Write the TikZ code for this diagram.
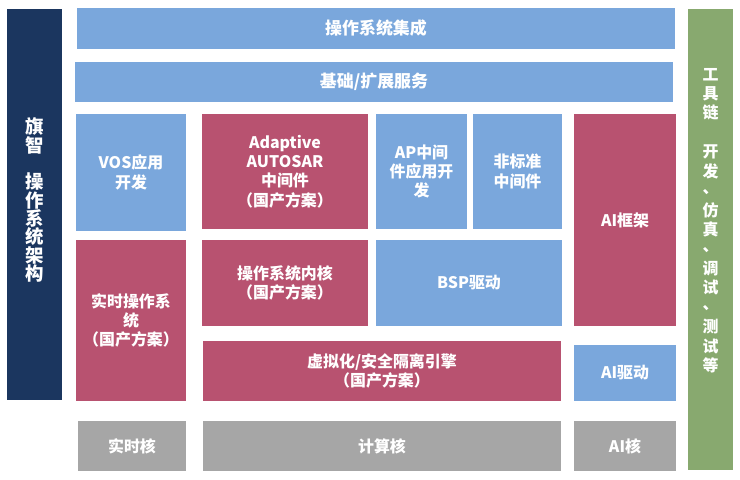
\documentclass[tikz,border=0pt]{standalone}
\usepackage{fontspec}
\setmainfont{Noto Sans CJK SC}
\definecolor{navy}{HTML}{1B365F}
\definecolor{skyblue}{HTML}{7AA7DC}
\definecolor{rose}{HTML}{B85270}
\definecolor{sage}{HTML}{88A96F}
\definecolor{stone}{HTML}{A6A6A6}
\newcommand{\vcomma}{\smash{\raisebox{0.22em}{、}}}

\begin{document}
\begin{tikzpicture}[x=1bp,y=-1bp,
    blk/.style={text=white,inner sep=0pt,align=center,
      font=\fontsize{16}{19.5}\selectfont\bfseries},
    bluebox/.style={blk,fill=skyblue},
    redbox/.style={blk,fill=rose},
    greybox/.style={blk,fill=stone},
    bigtxt/.style={font=\fontsize{17}{19.5}\selectfont\bfseries}]
  \useasboundingbox (0,0) rectangle (740,480);

  % side bars
  \node[blk,fill=navy,minimum width=55,minimum height=393] (side) at (34.5,204.5) {};
  \node[text=white,align=center,inner sep=0pt,
        font=\fontsize{18.5}{18.4}\selectfont\bfseries] (sidetxt) at (34.5,200)
        {旗\\智\\~\\操\\作\\系\\统\\架\\构};
  \node[blk,fill=sage,minimum width=45,minimum height=463] (tools) at (710.5,239.5) {};
  \node[blk] (toolstxt) at (710.5,220.5)
        {工\\具\\链\\~\\开\\发\\\vcomma\\仿\\真\\\vcomma\\调\\试\\\vcomma\\测\\试\\等};

  % service layers
  \node[bluebox,bigtxt,minimum width=600,minimum height=41] (integ) at (376,28.5) {操作系统集成};
  \node[bluebox,bigtxt,minimum width=600,minimum height=40] (svc) at (374,82) {基础/扩展服务};

  % middleware row
  \node[bluebox,minimum width=110,minimum height=117] (vos) at (131,172.5) {VOS应用\\开发};
  \node[redbox,minimum width=166,minimum height=115] (ara) at (285,171.5)
        {Adaptive\\AUTOSAR\\中间件\\（国产方案）};
  \node[bluebox,minimum width=91,minimum height=115] (apdev) at (421.5,171.5) {AP中间\\件应用开\\发};
  \node[bluebox,minimum width=89,minimum height=115] (nonstd) at (517.5,171.5) {非标准\\中间件};
  \node[redbox,minimum width=102,minimum height=212] (aifw) at (625,220) {AI框架};

  % kernel row
  \node[redbox,minimum width=110,minimum height=161] (rtos) at (131,320.5)
        {实时操作系\\统\\（国产方案）};
  \node[redbox,minimum width=166,minimum height=86] (kernel) at (285,283)
        {操作系统内核\\（国产方案）};
  \node[bluebox,minimum width=186,minimum height=86] (bsp) at (469,283) {BSP驱动};
  \node[redbox,minimum width=360,minimum height=60] (hyp) at (382,371)
        {虚拟化/安全隔离引擎\\（国产方案）};
  \node[bluebox,minimum width=102,minimum height=56] (aidrv) at (625,373) {AI驱动};

  % cores
  \node[greybox,minimum width=108,minimum height=50] (rtcore) at (132,446) {实时核};
  \node[greybox,minimum width=360,minimum height=50] (cpcore) at (382,446) {计算核};
  \node[greybox,minimum width=102,minimum height=50] (aicore) at (625,446) {AI核};
\end{tikzpicture}
\end{document}
